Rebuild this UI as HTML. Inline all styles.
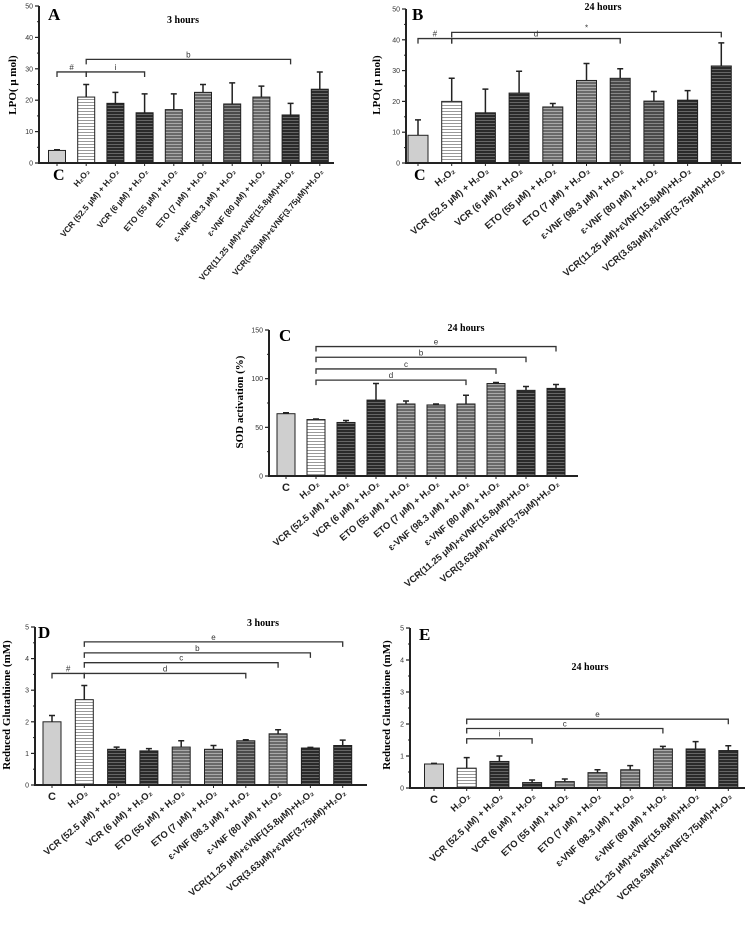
<!DOCTYPE html>
<html><head><meta charset="utf-8">
<style>
html,body{margin:0;padding:0;background:#fff;}
svg{display:block;}
text{font-family:"Liberation Sans",sans-serif;}
.ser{font-family:"Liberation Serif",serif;font-weight:bold;}
</style></head>
<body>
<svg id="fig" width="746" height="930" viewBox="0 0 746 930" xmlns="http://www.w3.org/2000/svg">
<defs>
<pattern id="pWhite" width="4" height="3" patternUnits="userSpaceOnUse"><rect width="4" height="3" fill="#fff"/><rect width="4" height="1" fill="#999"/></pattern>
<pattern id="pDark" width="4" height="3" patternUnits="userSpaceOnUse"><rect width="4" height="3" fill="#2a2a2a"/><rect width="4" height="1" fill="#666"/></pattern>
<pattern id="pMid" width="4" height="3" patternUnits="userSpaceOnUse"><rect width="4" height="3" fill="#6a6a6a"/><rect width="4" height="1" fill="#aaa"/></pattern>
<pattern id="pMid2" width="4" height="3" patternUnits="userSpaceOnUse"><rect width="4" height="3" fill="#4a4a4a"/><rect width="4" height="1" fill="#888"/></pattern>
<pattern id="pLight" width="4" height="4" patternUnits="userSpaceOnUse"><rect width="4" height="4" fill="#cfcfcf"/></pattern>
</defs>
</svg>
<script>
// ---- data ----
const categories = ["C","H₂O₂","VCR (52.5 μM) + H₂O₂","VCR (6 μM) + H₂O₂","ETO (55 μM) + H₂O₂","ETO (7 μM) + H₂O₂","ε-VNF (98.3 μM) + H₂O₂","ε-VNF (80 μM) + H₂O₂","VCR(11.25 μM)+εVNF(15.8μM)+H₂O₂","VCR(3.63μM)+εVNF(3.75μM)+H₂O₂"];
const valuesA = [4, 21, 19, 16, 17, 22.5, 18.8, 21, 15.3, 23.5];
const errTopA = [4.2, 25, 22.5, 22, 22, 25, 25.5, 24.5, 19, 29];
const ticksA = [0,10,20,30,40,50];
const valuesB = [9, 20, 16.3, 22.7, 18.2, 26.8, 27.5, 20.1, 20.4, 31.5];
const errTopB = [14, 27.5, 24, 29.8, 19.3, 32.3, 30.6, 23.2, 23.5, 39];
const ticksB = [0,10,20,30,40,50];
const valuesC = [64, 58, 55, 78, 74, 73, 74, 95, 88, 90];
const errTopC = [65, 58.5, 57, 95, 77, 74, 83, 96, 92, 94];
const ticksC = [0,50,100,150];
const valuesD = [2.0, 2.7, 1.13, 1.08, 1.2, 1.13, 1.4, 1.62, 1.17, 1.25];
const errTopD = [2.2, 3.15, 1.2, 1.15, 1.4, 1.25, 1.43, 1.75, 1.19, 1.42];
const ticksD = [0,1,2,3,4,5];
const valuesE = [0.75, 0.62, 0.83, 0.17, 0.2, 0.48, 0.57, 1.22, 1.22, 1.17];
const errTopE = [0.77, 0.95, 1.0, 0.25, 0.28, 0.57, 0.7, 1.3, 1.45, 1.32];
const ticksE = [0,1,2,3,4,5];
// brackets: [fromIndex, toIndex, level, label]
const bracketsA = [[0,1,29,"#"],[1,3,29,"i"],[1,8,33,"b"]];
const bracketsB = [[0,1,40.4,"#"],[1,9,42.4,"*"],[1,6,40.4,"d"]];
const bracketsC = [[1,9,133,"e"],[1,8,122,"b"],[1,7,110,"c"],[1,6,98.5,"d"]];
const bracketsD = [[0,1,3.53,"#"],[1,9,4.53,"e"],[1,8,4.18,"b"],[1,7,3.87,"c"],[1,6,3.53,"d"]];
const bracketsE = [[1,9,2.15,"e"],[1,7,1.86,"c"],[1,3,1.54,"i"]];

const NS = "http://www.w3.org/2000/svg";
const svg = document.getElementById('fig');
function mk(tag, attrs, parent){ const e=document.createElementNS(NS,tag); for(const k in attrs) e.setAttribute(k,attrs[k]); (parent||svg).appendChild(e); return e; }

function panel(cfg, values, errs, ticks, brackets){
  const g = mk('g',{});
  
  
  const ymax = ticks[ticks.length-1];
  const yS = v => cfg.y0 - (v/ymax)*(cfg.y0-cfg.yTop);
  const xS = i => cfg.xFirst + i*cfg.step;
  values.forEach((v,i)=>{
    const r = mk('rect',{x:xS(i)-cfg.bw/2, y:yS(v), width:cfg.bw, height:cfg.y0-yS(v), fill:'url(#'+cfg.fills[i]+')', stroke:'#222','stroke-width':1},g);
    
    
    const e = mk('path',{d:`M${xS(i)} ${yS(v)} V${yS(errs[i])} M${xS(i)-3} ${yS(errs[i])} H${xS(i)+3}`, stroke:'#222','stroke-width':1.5, fill:'none'},g);
    
    
  });
  const ax = mk('path',{d:`M${cfg.x0} ${cfg.yTop} V${cfg.y0} H${cfg.xRight}`, stroke:'#222','stroke-width':2,fill:'none'},g);
  
  
  ticks.forEach((t,k)=>{
    mk('line',{x1:cfg.x0-4,x2:cfg.x0,y1:yS(t),y2:yS(t),stroke:'#222','stroke-width':1.2},g);
    if(k<ticks.length-1){ const m=(t+ticks[k+1])/2; mk('line',{x1:cfg.x0-2,x2:cfg.x0,y1:yS(m),y2:yS(m),stroke:'#222','stroke-width':1},g); }
    const tl = mk('text',{x:cfg.x0-6,y:yS(t)+2.5,'font-size':7,'text-anchor':'end',fill:'#333'},g);
    tl.textContent = t;
    
    
  });
  values.forEach((v,i)=> mk('line',{x1:xS(i),x2:xS(i),y1:cfg.y0,y2:cfg.y0+3,stroke:'#222','stroke-width':1},g));
  categories.forEach((c,i)=>{
    let t;
    if(i===0 && cfg.bigC){
      t = mk('text',{x:xS(i)-4,y:cfg.y0+17,'font-size':16,'class':'ser'},g);
    } else if(i===0){
      t = mk('text',{x:xS(i)-4,y:cfg.y0+15,'font-size':11,'font-weight':'bold',fill:'#222'},g);
    } else {
      const lx = xS(i)+4, ly = cfg.y0+9;
      t = mk('text',{x:lx,y:ly,'font-size':cfg.lfs,'font-weight':'bold','text-anchor':'end',fill:'#222',transform:`rotate(${cfg.rot} ${lx} ${ly})`},g);
    }
    t.textContent = c;
    
    
  });
  brackets.forEach(b=>{
    const x1=xS(b[0]), x2=xS(b[1]), y=yS(b[2]);
    const p = mk('path',{d:`M${x1} ${y+5} V${y} H${x2} V${y+5}`, stroke:'#333','stroke-width':1.3,fill:'none'},g);
    
    
    const lt = mk('text',{x:(x1+x2)/2,y:y-2,'font-size':8,'text-anchor':'middle',fill:'#333'},g);
    lt.textContent = b[3];
    
    
  });
  const ti = mk('text',{x:cfg.tx,y:cfg.ty,'font-size':10,'class':'ser','text-anchor':'middle'},g);
  ti.textContent = cfg.title;
  
  
  const le = mk('text',{x:cfg.lx,y:cfg.ly,'font-size':17,'class':'ser'},g);
  le.textContent = cfg.id;
  
  
  const yl = mk('text',{x:cfg.ylx,y:cfg.yly,'font-size':11,'class':'ser','text-anchor':'middle',transform:`rotate(-90 ${cfg.ylx} ${cfg.yly})`},g);
  yl.textContent = cfg.ylabel;
  
  
}

panel({id:'A',x0:39,yTop:6,y0:163,xRight:334,xFirst:57,step:29.2,bw:17,bigC:true,rot:-50,lfs:8.4,
  fills:['pLight','pWhite','pDark','pDark','pMid','pMid','pMid2','pMid','pDark','pDark'],
  title:'3 hours',tx:183,ty:23,lx:48,ly:20,ylabel:'LPO( μ mol)',ylx:16,yly:85}, valuesA, errTopA, ticksA, bracketsA);
panel({id:'B',x0:406,yTop:9,y0:163,xRight:741,xFirst:418,step:33.7,bw:20,bigC:true,rot:-40,lfs:9.6,
  fills:['pLight','pWhite','pDark','pDark','pMid','pMid','pMid2','pMid2','pDark','pDark'],
  title:'24 hours',tx:603,ty:10,lx:412,ly:20,ylabel:'LPO( μ mol)',ylx:380,yly:85}, valuesB, errTopB, ticksB, bracketsB);
panel({id:'C',x0:269,yTop:330,y0:476,xRight:578,xFirst:286,step:30,bw:18,bigC:false,rot:-40,lfs:9.4,
  fills:['pLight','pWhite','pDark','pDark','pMid','pMid','pMid','pMid','pDark','pDark'],
  title:'24 hours',tx:466,ty:331,lx:279,ly:341,ylabel:'SOD activation (%)',ylx:243,yly:402}, valuesC, errTopC, ticksC, bracketsC);
panel({id:'D',x0:35,yTop:627,y0:785,xRight:367,xFirst:52,step:32.3,bw:18,bigC:false,rot:-40,lfs:9.4,
  fills:['pLight','pWhite','pDark','pDark','pMid','pMid','pMid2','pMid','pDark','pDark'],
  title:'3 hours',tx:263,ty:626,lx:38,ly:638,ylabel:'Reduced Glutathione (mM)',ylx:10,yly:705}, valuesD, errTopD, ticksD, bracketsD);
panel({id:'E',x0:410,yTop:628,y0:788,xRight:745,xFirst:434,step:32.7,bw:19,bigC:false,rot:-43,lfs:9.4,
  fills:['pLight','pWhite','pDark','pDark','pMid','pMid','pMid','pMid','pDark','pDark'],
  title:'24 hours',tx:590,ty:670,lx:419,ly:640,ylabel:'Reduced Glutathione (mM)',ylx:390,yly:705}, valuesE, errTopE, ticksE, bracketsE);
</script>
</body></html>
